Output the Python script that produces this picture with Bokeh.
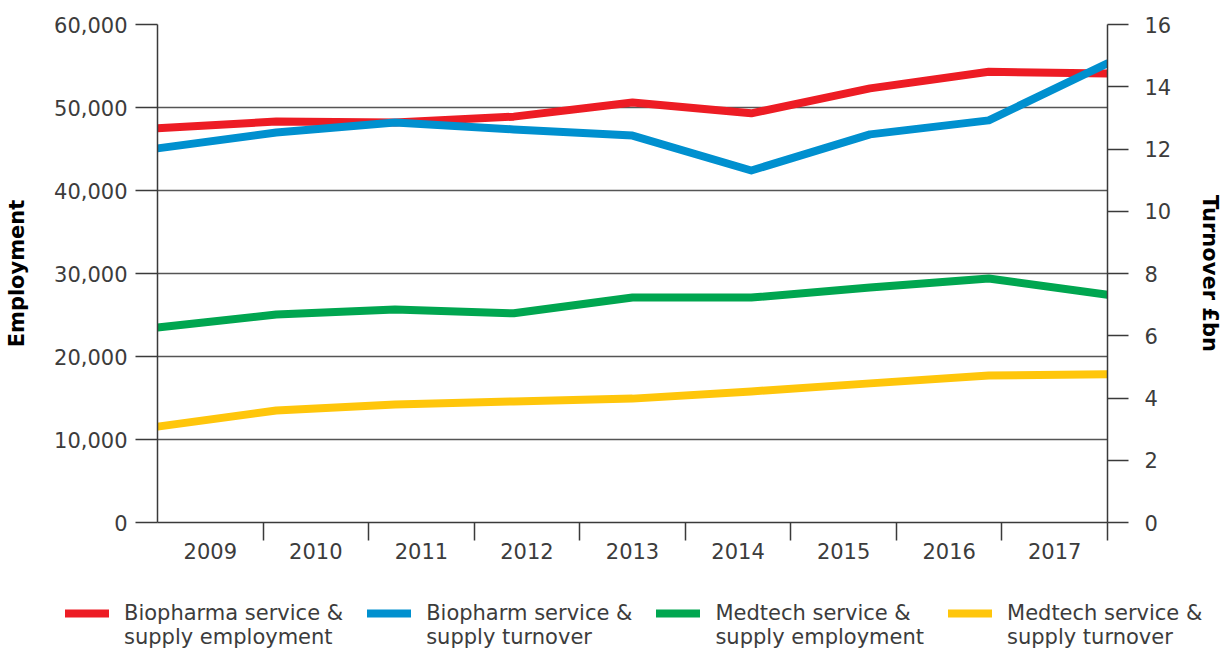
from bokeh.plotting import figure
from bokeh.layouts import column
from bokeh.models import (Range1d, LinearAxis, FixedTicker, NumeralTickFormatter,
                          Legend, LegendItem)
from bokeh.embed import file_html
from bokeh.resources import INLINE

# ---- data -------------------------------------------------------------
years = [2009, 2010, 2011, 2012, 2013, 2014, 2015, 2016, 2017]
year_labels = [str(y) for y in years]

bio_emp = [47500, 48300, 48200, 48900, 50600, 49300, 52300, 54300, 54100]      # employment
bio_turn = [12.02, 12.53, 12.85, 12.63, 12.43, 11.31, 12.47, 12.92, 14.75]     # £bn
med_emp = [23500, 25050, 25650, 25200, 27100, 27100, 28300, 29400, 27450]      # employment
med_turn = [3.08, 3.60, 3.79, 3.89, 3.98, 4.21, 4.47, 4.72, 4.76]              # £bn

emp_ticks = [0, 10000, 20000, 30000, 40000, 50000, 60000]
turn_ticks = [0, 2, 4, 6, 8, 10, 12, 14, 16]

series_labels = ["Biopharma service &\nsupply employment",
                 "Biopharm service &\nsupply turnover",
                 "Medtech service &\nsupply employment",
                 "Medtech service &\nsupply turnover"]
colors = ["#ED1C24", "#0090CF", "#00A650", "#FFC60B"]

FONT = "DejaVu Sans"
TXT = "#3c3c3c"
AX = "#3a3a3a"
LEFT, RIGHT, FW = 157, 100, 950

p = figure(frame_width=FW, frame_height=498, output_backend="svg", toolbar_location=None,
           x_range=Range1d(years[0], years[-1]), y_range=Range1d(0, 60000),
           x_axis_location=None, y_axis_location="left",
           min_border_left=LEFT, min_border_right=RIGHT,
           min_border_top=24, min_border_bottom=48)
p.outline_line_color = None
p.background_fill_color = "white"
p.border_fill_color = "white"
p.extra_x_ranges = {"band": Range1d(0, len(years))}
p.extra_y_ranges = {"turn": Range1d(0, 16)}

# ---- left axis ----------------------------------------------------------
ly = p.yaxis[0]
ly.ticker = FixedTicker(ticks=emp_ticks)
ly.formatter = NumeralTickFormatter(format="0,0")
ly.major_tick_out = 22
ly.major_tick_in = 0
ly.minor_tick_out = 0
ly.minor_tick_in = 0
ly.axis_line_color = AX
ly.axis_line_width = 1.5
ly.major_tick_line_color = AX
ly.major_tick_line_width = 1.5
ly.major_label_text_font = FONT
ly.major_label_text_font_size = "21px"
ly.major_label_text_color = TXT
ly.major_label_standoff = 8
ly.axis_label = "Employment"
ly.axis_label_text_font = FONT
ly.axis_label_text_font_style = "bold"
ly.axis_label_text_font_size = "21px"
ly.axis_label_text_color = "#000000"
ly.axis_label_standoff = 22

p.ygrid.ticker = FixedTicker(ticks=emp_ticks)
p.ygrid.grid_line_color = "#555555"
p.ygrid.grid_line_width = 1.4
p.xgrid.visible = False

# ---- right axis ---------------------------------------------------------
ry = LinearAxis(y_range_name="turn", ticker=FixedTicker(ticks=turn_ticks))
ry.major_tick_out = 21
ry.major_tick_in = 0
ry.minor_tick_out = 0
ry.minor_tick_in = 0
ry.axis_line_color = AX
ry.axis_line_width = 1.5
ry.major_tick_line_color = AX
ry.major_tick_line_width = 1.5
ry.major_label_text_font = FONT
ry.major_label_text_font_size = "21px"
ry.major_label_text_color = TXT
ry.major_label_standoff = 16
ry.axis_label = "Turnover £bn"
ry.axis_label_text_font = FONT
ry.axis_label_text_font_style = "bold"
ry.axis_label_text_font_size = "21px"
ry.axis_label_text_color = "#000000"
ry.axis_label_standoff = 24
if hasattr(ry, "axis_label_orientation"):
    ry.axis_label_orientation = "vertical"
p.add_layout(ry, "right")

# ---- bottom axis: labels centred in bands, ticks on band edges ----------
band_centres = [i + 0.5 for i in range(len(years))]
band_edges = [i + 1 for i in range(len(years))]
bx = LinearAxis(x_range_name="band",
                ticker=FixedTicker(ticks=band_centres, minor_ticks=band_edges))
bx.major_label_overrides = {c: lab for c, lab in zip(band_centres, year_labels)}
bx.major_tick_out = 0
bx.major_tick_in = 0
bx.minor_tick_out = 18
bx.minor_tick_in = 0
bx.minor_tick_line_color = AX
bx.minor_tick_line_width = 1.5
bx.axis_line_color = AX
bx.axis_line_width = 1.5
bx.major_label_text_font = FONT
bx.major_label_text_font_size = "21px"
bx.major_label_text_color = TXT
bx.major_label_standoff = 2
p.add_layout(bx, "below")

# ---- lines --------------------------------------------------------------
series = [bio_emp, bio_turn, med_emp, med_turn]
ranges = ["default", "turn", "default", "turn"]
line_kw = dict(line_width=8, line_cap="round", line_join="round")
for vals, col, rn in zip(series, colors, ranges):
    p.line(years, vals, line_color=col, y_range_name=rn, **line_kw)

# ---- legend strip below the chart --------------------------------------
# same series drawn into a strip whose y-range shows none of them, so only
# the legend is visible
lf = figure(frame_width=LEFT + FW + RIGHT, frame_height=85, output_backend="svg",
            toolbar_location=None, x_axis_location=None, y_axis_location=None,
            x_range=Range1d(years[0], years[-1]), y_range=Range1d(-2, -1),
            min_border=0)
lf.outline_line_color = None
lf.xgrid.visible = False
lf.ygrid.visible = False
leg_renderers = [lf.line(years, vals, line_color=col, **line_kw)
                 for vals, col in zip(series, colors)]
legend = Legend(items=[LegendItem(label="\n" + l, renderers=[r]) for l, r in
                       zip(series_labels, leg_renderers)],
                orientation="horizontal", location=(65, 6),
                border_line_color=None, background_fill_alpha=0,
                glyph_width=44, glyph_height=16, label_standoff=15,
                spacing=24, padding=0, margin=0,
                label_text_font=FONT, label_text_font_size="21px",
                label_text_color=TXT)
lf.add_layout(legend)

page = column(p, lf, spacing=0)
open("out.html", "w").write(file_html(page, INLINE))
